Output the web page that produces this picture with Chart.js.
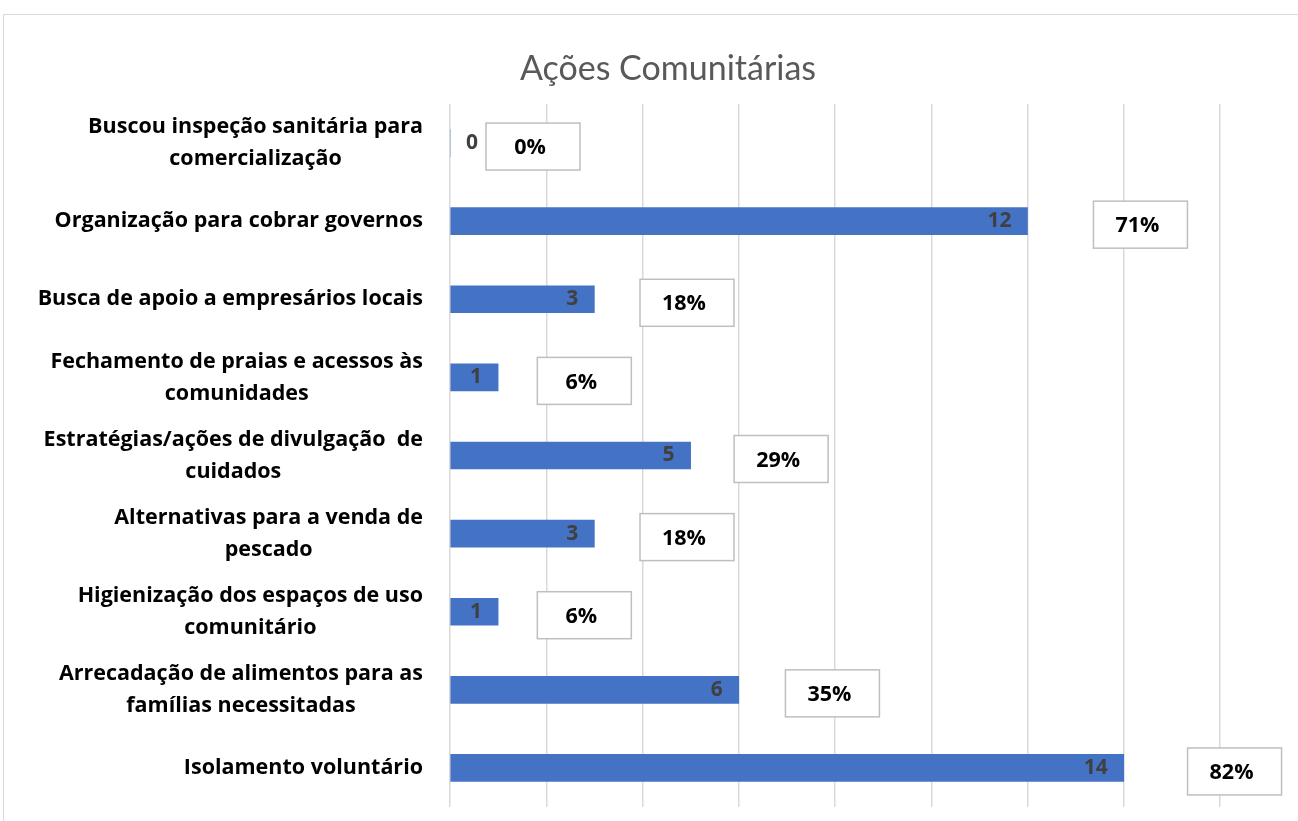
<!DOCTYPE html>
<html>
<head>
<meta charset="utf-8">
<title>Ações Comunitárias</title>
<script src="https://cdn.jsdelivr.net/npm/chart.js@4.4.1/dist/chart.umd.min.js"></script>
<style>
    html, body { margin: 0; padding: 0; background: #fff; overflow: hidden; }
    #wrap { position: relative; width: 1298px; height: 821px; }
    #frame { position: absolute; left: 3px; top: 14px; width: 1400px; height: 900px; border: 1px solid #d9d9d9; box-sizing: border-box; }
    canvas { position: absolute; left: 0; top: 0; }
</style>
</head>
<body>
<div id="wrap">
    <div id="frame"></div>
    <canvas id="acoesChart" width="1298" height="821"></canvas>
</div>
<script>
const chartTitle = 'Ações Comunitárias';

// one entry per category, each line of the wrapped label
const categories = [
    ['Buscou inspeção sanitária para', 'comercialização'],
    ['Organização para cobrar governos'],
    ['Busca de apoio a empresários locais'],
    ['Fechamento de praias e acessos às', 'comunidades'],
    ['Estratégias/ações de divulgação  de', 'cuidados'],
    ['Alternativas para a venda de', 'pescado'],
    ['Higienização dos espaços de uso', 'comunitário'],
    ['Arrecadação de alimentos para as', 'famílias necessitadas'],
    ['Isolamento voluntário']
];
const counts = [0, 12, 3, 1, 5, 3, 1, 6, 14];
const percents = [0, 71, 18, 6, 29, 18, 6, 35, 82];

const TITLE_FONT = 'Lato, "Open Sans", sans-serif';
const FONT = '"Open Sans", Lato, sans-serif';

// labels, value texts and percentage boxes drawn on top of the bars
const labelPlugin = {
    id: 'labelPlugin',
    afterDraw(chart) {
        const ctx = chart.ctx;
        const yScale = chart.scales.y;
        ctx.save();

        // title
        ctx.fillStyle = '#595959';
        ctx.font = '34px ' + TITLE_FONT;
        ctx.textAlign = 'center';
        ctx.textBaseline = 'middle';
        ctx.fillText(chartTitle, 668, 69);

        // category labels: block right aligned, lines centred inside block
        ctx.font = 'bold 21.5px ' + FONT;
        ctx.fillStyle = '#000';
        const lineH = 32;
        categories.forEach((lines, i) => {
            const yc = yScale.getPixelForValue(i);
            const blockW = Math.max(...lines.map(l => ctx.measureText(l).width));
            const cx = 423 - blockW / 2;
            lines.forEach((l, j) => {
                const y = yc + (j - (lines.length - 1) / 2) * lineH;
                ctx.fillText(l, cx, y);
            });
        });

        // count labels at the inside end of each bar
        const countMeta = chart.getDatasetMeta(0);
        ctx.font = 'bold 21px ' + FONT;
        ctx.fillStyle = '#404040';
        countMeta.data.forEach((bar, i) => {
            const txt = String(counts[i]);
            const w = ctx.measureText(txt).width;
            const right = bar.x - 16;
            if (right - w < bar.base) {
                ctx.textAlign = 'left';
                ctx.fillText(txt, bar.x + 16, bar.y);
            } else {
                ctx.textAlign = 'right';
                ctx.fillText(txt, right, bar.y);
            }
        });

        // percentage boxes past the end of the (invisible) percent bars
        const pctMeta = chart.getDatasetMeta(1);
        pctMeta.data.forEach((bar, i) => {
            const left = bar.x + 36;
            const top = bar.y - 20;
            ctx.fillStyle = '#fff';
            ctx.fillRect(left, top, 94, 47);
            ctx.strokeStyle = '#bfbfbf';
            ctx.lineWidth = 1.5;
            ctx.strokeRect(left, top, 94, 47);
            ctx.fillStyle = '#000';
            ctx.font = 'bold 21.5px ' + FONT;
            ctx.textAlign = 'center';
            ctx.fillText(percents[i] + '%', left + 44, bar.y + 5);
        });

        ctx.restore();
    }
};

new Chart(document.getElementById('acoesChart').getContext('2d'), {
    type: 'bar',
    data: {
        labels: categories,
        datasets: [
            {
                label: 'Quantidade',
                data: counts,
                backgroundColor: '#4472c4',
                barThickness: 27,
                grouped: false,
                xAxisID: 'x'
            },
            {
                label: 'Percentual',
                data: percents,
                backgroundColor: 'rgba(0,0,0,0)',
                barThickness: 27,
                grouped: false,
                xAxisID: 'x2'
            }
        ]
    },
    options: {
        indexAxis: 'y',
        responsive: false,
        animation: false,
        events: [],
        layout: { padding: { left: 0, right: 78, top: 104, bottom: 14 } },
        plugins: {
            legend: { display: false },
            title: { display: false },
            tooltip: { enabled: false }
        },
        scales: {
            x: {
                min: 0,
                max: 16,
                ticks: { display: false, stepSize: 2 },
                grid: { color: '#d9d9d9', lineWidth: 1.5, drawTicks: false },
                border: { display: false },
                afterFit: s => { s.height = 0; }
            },
            x2: {
                display: false,
                position: 'top',
                min: 0,
                max: 90
            },
            y: {
                ticks: { display: false },
                grid: { display: false },
                border: { display: false },
                afterFit: s => { s.width = 450; }
            }
        }
    },
    plugins: [labelPlugin]
});
</script>
</body>
</html>
